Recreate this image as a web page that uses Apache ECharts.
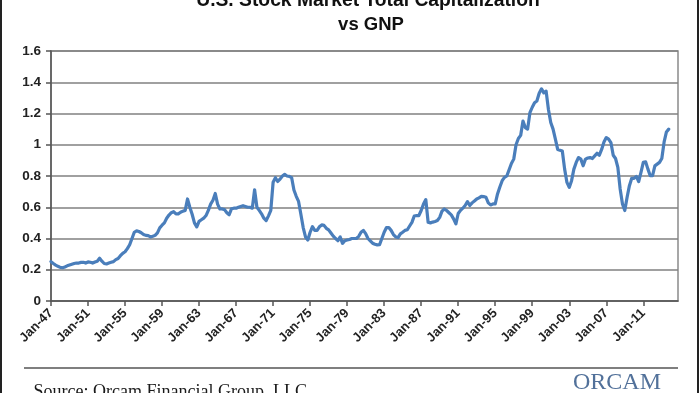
<!DOCTYPE html>
<html>
<head>
<meta charset="utf-8">
<script src="https://cdn.jsdelivr.net/npm/echarts@6/dist/echarts.min.js"></script>
<style>
  html, body { margin: 0; padding: 0; background: #ffffff; }
  #chart { width: 700px; height: 393px; }
</style>
</head>
<body>
<div id="chart"></div>
<script>
// ---- Data (quarterly, ratio of market cap to GNP) ----
const titleLine1 = 'U.S. Stock Market Total Capitalization';
const titleLine2 = 'vs GNP';
const sourceText = 'Source: Orcam Financial Group, LLC';
const logoText = 'ORCAM';

const startYear = 1947;
const endYear = 2014;            // axis runs through 2014
const quarterMonths = ['Jan', 'Apr', 'Jul', 'Oct'];

const values1947_1959 = [
  0.252, 0.24, 0.23, 0.222,
  0.215, 0.213, 0.218, 0.225,
  0.23, 0.235, 0.24, 0.243,
  0.243, 0.247, 0.248, 0.243,
  0.25, 0.248, 0.243, 0.25,
  0.255, 0.274, 0.255, 0.24,
  0.237, 0.243, 0.248, 0.252,
  0.265, 0.272, 0.29, 0.305,
  0.315, 0.335, 0.36, 0.40,
  0.44, 0.449, 0.445, 0.437,
  0.426, 0.42, 0.418, 0.41,
  0.414, 0.42, 0.436, 0.468,
  0.485, 0.50, 0.53, 0.55
];
const values1960_1969 = [
  0.565, 0.572, 0.558, 0.558,
  0.568, 0.575, 0.58, 0.653,
  0.60, 0.555, 0.50, 0.474,
  0.51, 0.52, 0.53, 0.547,
  0.58, 0.62, 0.645, 0.688,
  0.62, 0.589, 0.589, 0.585,
  0.565, 0.552, 0.59, 0.594,
  0.594, 0.60, 0.605, 0.61,
  0.605, 0.60, 0.60, 0.594,
  0.712, 0.60, 0.58, 0.558
];
const values1970_1979 = [
  0.53, 0.515, 0.545, 0.58,
  0.76, 0.789, 0.765, 0.78,
  0.80, 0.81, 0.80, 0.798,
  0.79, 0.71, 0.67, 0.637,
  0.555, 0.47, 0.41, 0.39,
  0.44, 0.476, 0.452, 0.452,
  0.475, 0.487, 0.484, 0.465,
  0.455, 0.435, 0.415, 0.40,
  0.386, 0.41, 0.369, 0.386,
  0.39, 0.394, 0.40, 0.40
];
const values1980_1989 = [
  0.40, 0.414, 0.44, 0.452,
  0.431, 0.40, 0.385, 0.37,
  0.363, 0.359, 0.36, 0.40,
  0.44, 0.47, 0.47, 0.452,
  0.425, 0.41, 0.406, 0.43,
  0.44, 0.452, 0.456, 0.48,
  0.503, 0.544, 0.547, 0.547,
  0.579, 0.621, 0.649, 0.504,
  0.50, 0.505, 0.509, 0.515,
  0.535, 0.575, 0.589, 0.579
];
const values1990_1999 = [
  0.565, 0.551, 0.526, 0.494,
  0.56, 0.58, 0.594, 0.611,
  0.636, 0.611, 0.628, 0.64,
  0.653, 0.66, 0.67, 0.668,
  0.664, 0.628, 0.615, 0.621,
  0.621, 0.685, 0.73, 0.77,
  0.791, 0.80, 0.84, 0.88,
  0.908, 1.0, 1.04, 1.06,
  1.152, 1.11, 1.10, 1.205,
  1.24, 1.269, 1.28, 1.33
];
const values2000_2013 = [
  1.358, 1.332, 1.343, 1.226,
  1.142, 1.10, 1.036, 0.97,
  0.965, 0.96, 0.844, 0.759,
  0.727, 0.77, 0.844, 0.887,
  0.918, 0.908, 0.865, 0.908,
  0.915, 0.918, 0.912, 0.929,
  0.946, 0.933, 0.97, 1.018,
  1.046, 1.036, 1.014, 0.933,
  0.912, 0.855, 0.717, 0.621,
  0.579, 0.664, 0.738, 0.785,
  0.785, 0.797, 0.764, 0.823,
  0.887, 0.891, 0.844, 0.802,
  0.802, 0.865, 0.876, 0.887,
  0.912, 1.018, 1.082, 1.10
];

const yMin = 0, yMax = 1.6, yStep = 0.2;

// ---- Build categories and series ----
const categories = [];
for (let y = startYear; y <= endYear; y++) {
  for (const m of quarterMonths) {
    categories.push(m + '-' + String(y % 100).padStart(2, '0'));
  }
}
const values = [].concat(values1947_1959, values1960_1969, values1970_1979,
                         values1980_1989, values1990_1999, values2000_2013);

const chart = echarts.init(document.getElementById('chart'), null, { renderer: 'canvas' });

const option = {
  animation: false,
  backgroundColor: '#ffffff',
  grid: {
    left: 51, right: 22, top: 51, bottom: 92,
    show: true, borderColor: '#8a8a8a', borderWidth: 1.5, backgroundColor: 'transparent'
  },
  xAxis: {
    type: 'category',
    data: categories,
    boundaryGap: false,
    axisLine: { show: true, lineStyle: { color: '#555555', width: 1.5 } },
    axisTick: { show: true, interval: 15, length: 5, lineStyle: { color: '#555555', width: 1.5 } },
    axisLabel: {
      interval: 15, rotate: 45, margin: 10,
      fontFamily: 'Liberation Sans, Arial, sans-serif', fontWeight: 'bold',
      fontSize: 13, color: '#222222'
    },
    splitLine: { show: false }
  },
  yAxis: {
    type: 'value',
    min: yMin, max: yMax, interval: yStep,
    axisLine: { show: true, lineStyle: { color: '#555555', width: 1.5 } },
    axisTick: { show: true, length: 5, lineStyle: { color: '#555555', width: 1.5 } },
    axisLabel: {
      margin: 10,
      fontFamily: 'Liberation Sans, Arial, sans-serif', fontWeight: 'bold',
      fontSize: 13.5, color: '#222222'
    },
    splitLine: { show: true, lineStyle: { color: '#808080', width: 1.5 } }
  },
  series: [{
    type: 'line',
    data: values,
    showSymbol: false,
    smooth: false,
    lineStyle: { color: '#4a7ebb', width: 3.2, join: 'round', cap: 'round' },
    z: 5
  }],
  graphic: [
    { type: 'rect', left: 0, top: 0, shape: { width: 2, height: 393 }, style: { fill: '#222' } },
    { type: 'rect', left: 697, top: 0, shape: { width: 2, height: 393 }, style: { fill: '#222' } },
    { type: 'text', x: 368, y: 0.6,
      style: { text: titleLine1, textAlign: 'center', textVerticalAlign: 'middle',
               font: 'bold 19.3px "Liberation Sans", Arial, sans-serif', fill: '#111' } },
    { type: 'text', x: 371, y: 24.6,
      style: { text: titleLine2, textAlign: 'center', textVerticalAlign: 'middle',
               font: 'bold 18.5px "Liberation Sans", Arial, sans-serif', fill: '#111' } },
    { type: 'line', shape: { x1: 24, y1: 368, x2: 678, y2: 368 },
      style: { stroke: '#555', lineWidth: 1.5 } },
    { type: 'text', x: 33.5, y: 392.5,
      style: { text: sourceText, textAlign: 'left', textVerticalAlign: 'middle',
               font: '18px "Liberation Serif", "Times New Roman", serif', fill: '#1a1a1a' } },
    { type: 'text', x: 617, y: 382.5,
      style: { text: logoText, textAlign: 'center', textVerticalAlign: 'middle',
               font: '24px "Liberation Serif", "Times New Roman", serif', fill: '#52719a' } }
  ]
};

chart.setOption(option);
</script>
</body>
</html>
